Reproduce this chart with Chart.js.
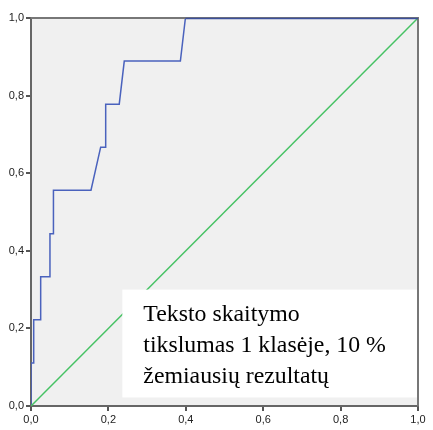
<!DOCTYPE html>
<html>
<head>
<meta charset="utf-8">
<script src="https://cdn.jsdelivr.net/npm/chart.js@4/dist/chart.umd.min.js"></script>
<style>
  html, body { margin: 0; padding: 0; background: #ffffff; }
  #wrap { width: 433px; height: 430px; }
</style>
</head>
<body>
<div id="wrap"><canvas id="c" width="433" height="430"></canvas></div>
<script>
// ROC curve: 1 - specificity (x) against sensitivity (y)
const rocFpr = [0, 0, 0.007, 0.007, 0.025, 0.025, 0.049, 0.049, 0.058, 0.058, 0.155, 0.180, 0.193, 0.193, 0.228, 0.241, 0.386, 0.399, 1];
const rocTpr = [0, 0.111, 0.111, 0.222, 0.222, 0.333, 0.333, 0.444, 0.444, 0.556, 0.556, 0.667, 0.667, 0.778, 0.778, 0.889, 0.889, 1, 1];
// Reference line
const refX = [0, 1];
const refY = [0, 1];
const tickValues = [0, 0.2, 0.4, 0.6, 0.8, 1.0];
const boxLines = ["Teksto skaitymo", "tikslumas 1 klasėje, 10 %", "žemiausių rezultatų"];

const toPts = (xs, ys) => xs.map((x, i) => ({ x: x, y: ys[i] }));
const fmt = v => v.toFixed(1).replace('.', ',');

const frame = {
  id: 'frame',
  beforeDraw(chart) {
    const { ctx, chartArea: a } = chart;
    ctx.save();
    ctx.fillStyle = '#f0f0f0';
    ctx.fillRect(a.left, a.top, a.right - a.left, a.bottom - a.top);
    ctx.restore();
  },
  afterDraw(chart) {
    const { ctx, chartArea: a } = chart;
    ctx.save();
    ctx.strokeStyle = '#777777';
    ctx.lineWidth = 2;
    ctx.beginPath();
    ctx.moveTo(a.left, a.top);
    ctx.lineTo(a.right, a.top);
    ctx.lineTo(a.right, a.bottom);
    ctx.stroke();
    // top edge carries the curve at sensitivity 1
    const xs = chart.scales.x, ys = chart.scales.y;
    ctx.strokeStyle = '#3c4f9a';
    ctx.lineWidth = 1.5;
    ctx.beginPath();
    ctx.moveTo(xs.getPixelForValue(rocFpr[rocFpr.length - 2]), ys.getPixelForValue(1) + 0.5);
    ctx.lineTo(a.right, ys.getPixelForValue(1) + 0.5);
    ctx.stroke();

    // caption box
    const bx = xs.getPixelForValue(0.236), by = ys.getPixelForValue(0.3);
    const bw = a.right - 1 - bx, bh = ys.getPixelForValue(0.022) - by;
    ctx.fillStyle = '#ffffff';
    ctx.fillRect(bx, by, bw, bh);
    ctx.fillStyle = '#000000';
    ctx.font = '23.8px "Liberation Serif", "Times New Roman", serif';
    ctx.textBaseline = 'alphabetic';
    boxLines.forEach((t, i) => ctx.fillText(t, bx + 21, by + 31.5 + i * 31));
    ctx.restore();
  }
};

new Chart(document.getElementById('c'), {
  type: 'scatter',
  data: {
    datasets: [
      {
        data: toPts(refX, refY),
        showLine: true,
        borderColor: '#46c264',
        borderWidth: 1.5,
        pointRadius: 0,
        tension: 0
      },
      {
        data: toPts(rocFpr, rocTpr),
        showLine: true,
        borderColor: '#4a62bd',
        borderWidth: 1.5,
        pointRadius: 0,
        tension: 0
      }
    ]
  },
  options: {
    responsive: false,
    animation: false,
    layout: { padding: { top: 18, right: 15, left: 0, bottom: 0 } },
    plugins: { legend: { display: false }, tooltip: { enabled: false } },
    scales: {
      x: {
        type: 'linear', min: 0, max: 1,
        afterBuildTicks: s => { s.ticks = tickValues.map(v => ({ value: v })); },
        afterFit: s => { s.height = 24; },
        ticks: { callback: v => fmt(v), color: '#222222', font: { family: '"Liberation Sans", Arial, sans-serif', size: 11 }, padding: 2, maxRotation: 0 },
        grid: { drawOnChartArea: false, drawTicks: true, tickLength: 5, color: '#555555', lineWidth: 2 },
        border: { display: true, color: '#666666', width: 2 }
      },
      y: {
        type: 'linear', min: 0, max: 1,
        afterBuildTicks: s => { s.ticks = tickValues.map(v => ({ value: v })); },
        afterFit: s => { s.width = 31; },
        ticks: { callback: v => fmt(v), color: '#222222', font: { family: '"Liberation Sans", Arial, sans-serif', size: 11 }, padding: 2 },
        grid: { drawOnChartArea: false, drawTicks: true, tickLength: 5, color: '#555555', lineWidth: 2 },
        border: { display: true, color: '#666666', width: 2 }
      }
    }
  },
  plugins: [frame]
});
</script>
</body>
</html>
